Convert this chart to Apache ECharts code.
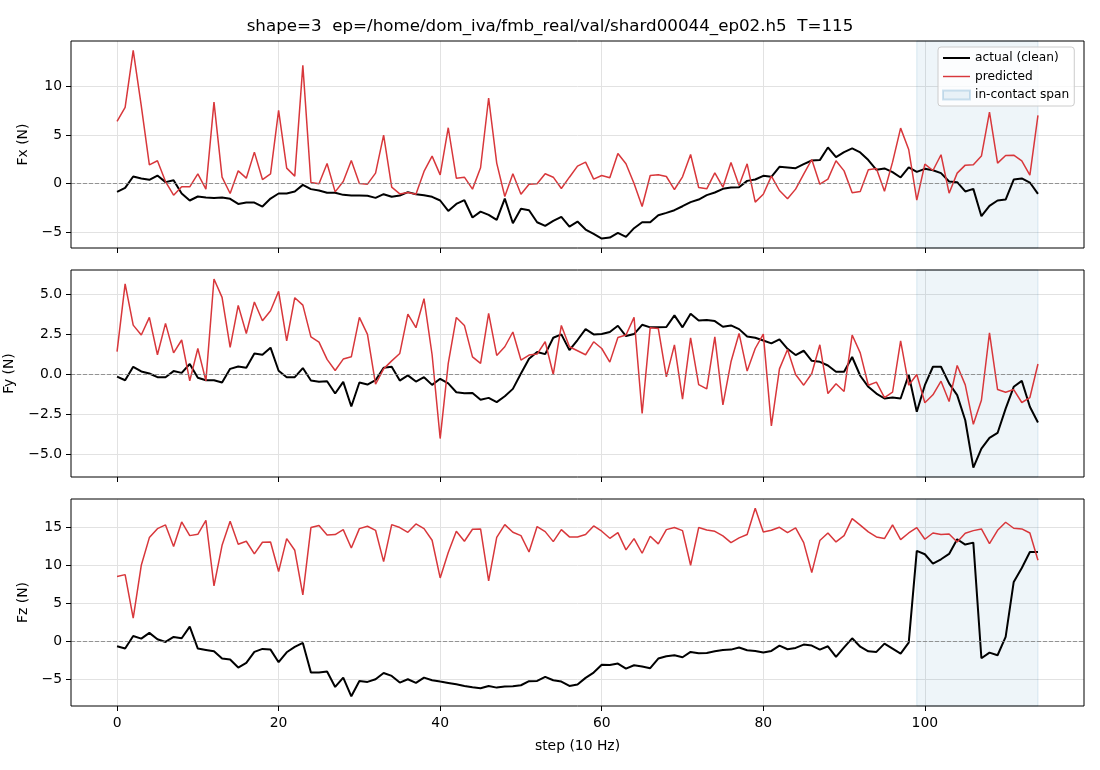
<!DOCTYPE html>
<html>
<head>
<meta charset="utf-8">
<script src="https://cdn.jsdelivr.net/npm/echarts@6/dist/echarts.min.js"></script>
<style>
    html, body { margin: 0; padding: 0; background: #fff; }
    #forceChart { width: 1100px; height: 770px; }
</style>
</head>
<body>
<div id="forceChart"></div>
<script>
// step index 0..114 (10 Hz)
var steps = [];
for (var i = 0; i < 115; i++) steps.push(i);

var fxActual = [-0.86,-0.45,0.72,0.52,0.38,0.82,0.14,0.34,-1.03,-1.75,-1.34,-1.44,-1.48,-1.44,-1.58,-2.1,-1.96,-1.96,-2.37,-1.55,
    -1.03,-1.03,-0.82,-0.14,-0.58,-0.72,-0.96,-0.96,-1.17,-1.24,-1.24,-1.27,-1.48,-1.1,-1.37,-1.24,-0.89,-1.1,-1.2,-1.37,
    -1.75,-2.82,-2.1,-1.72,-3.5,-2.89,-3.23,-3.75,-1.55,-4.09,-2.61,-2.75,-3.99,-4.36,-3.85,-3.44,-4.43,-3.92,-4.74,-5.19,
    -5.67,-5.57,-5.09,-5.5,-4.6,-3.99,-3.99,-3.26,-3.02,-2.75,-2.34,-1.92,-1.65,-1.2,-0.93,-0.55,-0.41,-0.38,0.27,0.41,
    0.79,0.69,1.72,1.65,1.58,1.99,2.37,2.41,3.71,2.71,3.23,3.61,3.2,2.41,1.41,1.55,1.17,0.62,1.65,1.2,
    1.51,1.37,1.07,0.21,0.14,-0.82,-0.55,-3.37,-2.3,-1.75,-1.65,0.41,0.52,0.1,-1.07];
var fxPred = [6.39,7.84,13.7,8.0,1.92,2.34,0.2,-1.2,-0.34,-0.34,1.0,-0.58,8.38,0.65,-1.03,1.3,0.55,3.23,0.41,1.0,
    7.53,1.58,0.76,12.16,0.1,-0.03,2.06,-0.86,0.2,2.37,0.0,-0.07,1.07,4.98,-0.38,-1.07,-0.93,-1.1,1.24,2.82,
    0.89,5.74,0.55,0.65,-0.58,1.62,8.8,2.1,-1.34,1.0,-1.1,-0.07,-0.03,1.0,0.65,-0.52,0.65,1.79,2.2,0.45,
    0.82,0.6,3.09,2.03,0.0,-2.37,0.82,0.89,0.72,-0.62,0.69,2.99,-0.41,-0.55,1.1,-0.38,2.16,-0.21,2.03,-1.92,
    -1.1,0.76,-0.72,-1.58,-0.58,0.96,2.47,-0.07,0.45,2.34,1.3,-0.96,-0.82,1.41,1.55,-0.79,2.2,5.7,3.5,-1.72,
    1.99,1.34,2.96,-1.0,1.07,1.89,1.92,2.82,7.35,2.1,2.89,2.92,2.34,0.86,7.01];

var fyActual = [-0.15,-0.38,0.46,0.17,0.04,-0.19,-0.19,0.19,0.08,0.63,-0.23,-0.38,-0.38,-0.52,0.33,0.48,0.4,1.29,1.21,1.65,
    0.21,-0.19,-0.19,0.38,-0.4,-0.48,-0.44,-1.21,-0.48,-2.02,-0.52,-0.65,-0.38,0.4,0.46,-0.4,-0.08,-0.46,-0.19,-0.67,
    -0.29,-0.58,-1.13,-1.19,-1.17,-1.6,-1.48,-1.75,-1.38,-0.92,0.04,0.96,1.38,1.25,2.27,2.48,1.5,2.13,2.81,2.48,
    2.5,2.63,3.02,2.38,2.5,3.08,2.92,2.92,2.94,3.67,2.92,3.77,3.35,3.38,3.31,2.96,3.04,2.81,2.35,2.27,
    2.1,1.92,2.17,1.58,1.19,1.46,0.83,0.77,0.54,0.15,0.15,1.07,-0.1,-0.79,-1.21,-1.52,-1.46,-1.52,-0.04,-2.35,
    -0.69,0.46,0.46,-0.58,-1.31,-2.88,-5.83,-4.65,-3.98,-3.67,-2.15,-0.79,-0.42,-2.04,-3.02];
var fyPred = [1.4,5.63,3.06,2.44,3.54,1.21,3.17,1.33,2.13,-0.42,1.6,-0.42,5.94,4.79,1.67,4.29,2.54,4.5,3.33,3.96,
    5.17,2.08,4.77,4.31,2.33,2.0,0.92,0.23,0.94,1.08,3.54,2.48,-0.63,0.33,0.83,1.29,3.75,2.9,4.71,1.21,
    -4.02,0.67,3.54,3.04,1.08,0.67,3.79,1.17,1.71,2.63,0.88,1.19,1.25,2.02,-0.02,3.04,1.71,1.46,1.21,2.02,
    1.6,0.75,2.29,2.44,3.54,-2.46,2.9,2.85,-0.17,1.83,-1.56,2.27,-0.65,-0.92,2.33,-1.92,0.77,2.54,0.19,1.6,
    2.5,-3.23,0.33,1.54,-0.02,-0.69,0.04,1.83,-1.21,-0.6,-1.08,2.44,1.33,-0.69,-0.5,-1.46,-1.13,2.08,-0.69,-0.02,
    -1.79,-1.29,-0.44,-1.71,0.54,-0.67,-3.13,-1.63,2.58,-0.96,-1.13,-0.96,-1.77,-1.46,0.63];

var fzActual = [-0.66,-0.96,0.7,0.35,1.1,0.26,-0.09,0.57,0.39,1.93,-0.96,-1.14,-1.32,-2.28,-2.41,-3.46,-2.85,-1.4,-1.01,-1.1,
    -2.76,-1.45,-0.75,-0.22,-4.12,-4.12,-3.99,-6.01,-4.78,-7.24,-5.22,-5.35,-5.0,-4.17,-4.56,-5.44,-5.0,-5.48,-4.78,-5.13,
    -5.31,-5.48,-5.66,-5.88,-6.05,-6.18,-5.88,-6.1,-5.96,-5.92,-5.79,-5.26,-5.22,-4.69,-5.13,-5.31,-5.88,-5.7,-4.82,-4.12,
    -3.09,-3.11,-2.94,-3.6,-3.16,-3.33,-3.55,-2.28,-1.97,-1.84,-2.11,-1.4,-1.58,-1.54,-1.32,-1.14,-1.1,-0.83,-1.18,-1.27,
    -1.49,-1.27,-0.57,-1.05,-0.88,-0.44,-0.57,-1.1,-0.66,-2.06,-0.8,0.39,-0.72,-1.32,-1.4,-0.31,-0.96,-1.62,-0.18,11.89,
    11.45,10.22,10.79,11.49,13.42,12.72,12.98,-2.24,-1.49,-1.84,0.57,7.81,9.65,11.75,11.75];
var fzPred = [8.51,8.77,3.03,10.0,13.64,14.82,15.31,12.46,15.7,13.9,14.08,15.92,7.28,12.63,15.79,12.76,13.16,11.49,13.03,13.07,
    9.17,13.51,11.97,6.1,14.96,15.22,13.99,14.04,14.69,12.28,14.82,15.13,14.6,10.48,15.35,14.96,14.34,15.44,14.82,13.29,
    8.33,11.67,14.47,13.16,14.74,14.78,7.94,13.68,15.35,14.34,13.9,11.75,15.09,14.43,13.11,14.69,13.73,13.73,14.04,15.18,
    14.48,13.55,14.3,12.02,13.51,11.58,13.82,12.81,14.69,14.96,14.56,10.0,14.96,14.65,14.47,13.86,12.98,13.6,14.04,17.5,
    14.39,14.6,15.0,14.3,14.91,12.98,9.04,13.25,14.25,13.07,13.9,16.14,15.28,14.39,13.73,13.51,15.31,13.38,14.25,14.96,
    13.42,14.25,14.04,14.12,13.07,14.21,14.56,14.78,12.85,14.6,15.66,14.87,14.78,14.25,10.66];

// tick labels
var xTicks = [0, 20, 40, 60, 80, 100];
var fxTicks = [-5, 0, 5, 10];
var fyTicks = [-5, -2.5, 0, 2.5, 5];
var fzTicks = [-5, 0, 5, 10, 15];

var contactSpan = [99, 114];
var titleText = 'shape=3  ep=/home/dom_iva/fmb_real/val/shard00044_ep02.h5  T=115';

var font = 'DejaVu Sans';
var black = '#000000';
var red = '#d8373b';

function pairs(ys) {
    return steps.map(function(s, i) { return [s, ys[i]]; });
}

function minusFmt(digits) {
    return function(v) {
        var s = digits ? v.toFixed(digits) : String(Math.round(v));
        return s.replace('-', '\u2212');
    };
}

var grids = [
    { left: 71, top: 41, width: 1013, height: 207 },
    { left: 71, top: 270, width: 1013, height: 207 },
    { left: 71, top: 499, width: 1013, height: 207 }
];
grids.forEach(function(g) {
    g.show = true;
    g.z = 10;
    g.borderColor = '#000';
    g.borderWidth = 1;
    g.backgroundColor = 'transparent';
    g.containLabel = false;
    g.outerBoundsMode = 'none';
});

function makeX(idx) {
    var last = idx === 2;
    return {
        type: 'value',
        gridIndex: idx,
        position: 'bottom',
        min: -5.7,
        max: 119.7,
        minInterval: 20,
        maxInterval: 20,
        name: last ? 'step (10 Hz)' : '',
        nameLocation: 'middle',
        nameGap: 33,
        nameMoveOverlap: false,
        nameTextStyle: { color: '#000', fontSize: 13.9, fontFamily: font },
        axisLine: { show: false, onZero: false },
        axisTick: { show: true, length: 5, customValues: xTicks, lineStyle: { color: '#000', width: 1 } },
        axisLabel: {
            show: last, color: '#000', fontSize: 13.9, fontFamily: font, margin: 10,
            customValues: xTicks, formatter: minusFmt(0)
        },
        splitLine: { show: true, lineStyle: { color: '#e2e2e2', width: 1 } }
    };
}

function makeY(idx, name, gap, min, max, step, ticks, digits) {
    return {
        type: 'value',
        gridIndex: idx,
        position: 'left',
        min: min,
        max: max,
        minInterval: step,
        maxInterval: step,
        name: name,
        nameLocation: 'middle',
        nameGap: gap,
        nameMoveOverlap: false,
        nameTextStyle: { color: '#000', fontSize: 13.9, fontFamily: font },
        axisLine: { show: false, onZero: false },
        axisTick: { show: true, length: 5, customValues: ticks, lineStyle: { color: '#000', width: 1 } },
        axisLabel: {
            color: '#000', fontSize: 13.9, fontFamily: font, margin: 9,
            customValues: ticks, formatter: minusFmt(digits)
        },
        splitLine: { show: true, lineStyle: { color: '#e2e2e2', width: 1 } }
    };
}

function actualSeries(idx, ys) {
    return {
        name: 'actual (clean)',
        type: 'line',
        xAxisIndex: idx,
        yAxisIndex: idx,
        data: pairs(ys),
        symbol: 'none',
        z: 3,
        lineStyle: { color: black, width: 2 },
        itemStyle: { color: black },
        markLine: {
            silent: true,
            symbol: ['none', 'none'],
            label: { show: false },
            lineStyle: { color: '#7f7f7f', type: [4, 2], width: 0.8 },
            data: [{ yAxis: 0 }]
        },
        markArea: {
            silent: true,
            itemStyle: { color: 'rgba(31,119,180,0.075)', borderColor: 'rgba(31,119,180,0.14)', borderWidth: 1 },
            data: [[{ xAxis: contactSpan[0] }, { xAxis: contactSpan[1] }]]
        }
    };
}

function predSeries(idx, ys) {
    return {
        name: 'predicted',
        type: 'line',
        xAxisIndex: idx,
        yAxisIndex: idx,
        data: pairs(ys),
        symbol: 'none',
        z: 4,
        lineStyle: { color: red, width: 1.5 },
        itemStyle: { color: red }
    };
}

var chart = echarts.init(document.getElementById('forceChart'));

var option = {
    animation: false,
    backgroundColor: '#fff',
    title: {
        text: titleText,
        left: 'center',
        top: 18,
        padding: [0, 0, 0, 55],
        textStyle: { color: '#000', fontSize: 16.7, fontWeight: 'normal', fontFamily: font }
    },
    legend: {
        orient: 'vertical',
        left: 938,
        top: 47,
        padding: [5, 5, 5, 4],
        itemGap: 6.5,
        itemWidth: 27,
        itemHeight: 9,
        backgroundColor: 'rgba(255,255,255,0.8)',
        borderColor: '#cccccc',
        borderWidth: 1,
        borderRadius: 3,
        z: 20,
        textStyle: { color: '#000', fontSize: 12.2, fontFamily: font },
        data: [
            { name: 'actual (clean)', icon: 'path://M0,0H30V2.2H0Z' },
            { name: 'predicted', icon: 'path://M0,0H30V1.6H0Z' },
            { name: 'in-contact span', icon: 'rect' }
        ]
    },
    grid: grids,
    xAxis: [makeX(0), makeX(1), makeX(2)],
    yAxis: [
        makeY(0, 'Fx (N)', 41, -6.64, 14.67, 5, fxTicks, 0),
        makeY(1, 'Fy (N)', 55, -6.42, 6.5, 2.5, fyTicks, 1),
        makeY(2, 'Fz (N)', 41, -8.52, 18.72, 5, fzTicks, 0)
    ],
    series: [
        actualSeries(0, fxActual),
        predSeries(0, fxPred),
        actualSeries(1, fyActual),
        predSeries(1, fyPred),
        actualSeries(2, fzActual),
        predSeries(2, fzPred),
        {
            name: 'in-contact span',
            type: 'bar',
            xAxisIndex: 0,
            yAxisIndex: 0,
            data: [],
            itemStyle: { color: 'rgba(31,119,180,0.09)', borderColor: 'rgba(31,119,180,0.2)', borderWidth: 1 }
        }
    ]
};

chart.setOption(option);
</script>
</body>
</html>
